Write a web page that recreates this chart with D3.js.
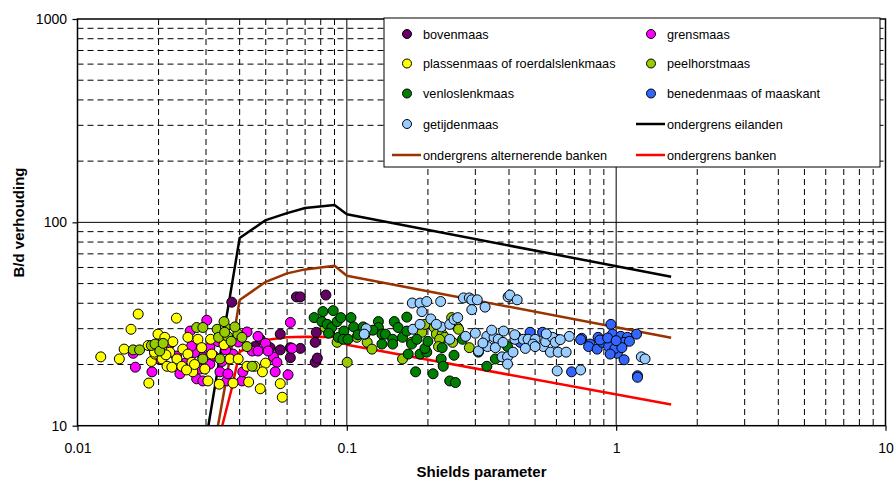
<!DOCTYPE html>
<html>
<head>
<meta charset="utf-8">
<script src="https://cdn.jsdelivr.net/npm/d3@7"></script>
<style>
  body { margin: 0; background: #fff; }
  svg { display: block; }
  text { font-family: "Liberation Sans", Arial, sans-serif; fill: #000; }
</style>
</head>
<body>
<svg id="chart" width="895" height="481"></svg>
<script>
// ---- Measured river reaches: [Shields parameter, B/d ratio] ----
const bovenmaas = [
  [0.0374,40.5],[0.065,43.0],[0.0672,43.0],[0.0836,43.9],[0.077,28.8],[0.0763,25.7],
  [0.0617,24.2],[0.0672,24.0],[0.0566,23.6],[0.0617,21.6],[0.0763,20.5],[0.0777,21.5],
  [0.0519,24.2],[0.0477,26.6],[0.0455,24.5],[0.0566,28.2]
];
const grensmaas = [
  [0.0164,19.4],[0.0161,22.7],[0.0189,18.4],[0.0217,24.5],
  [0.0302,33.0],[0.0262,29.2],[0.022,25.2],[0.031,24.2],[0.0333,25.9],[0.0292,21.8],
  [0.0344,20.7],[0.031,20.1],[0.0338,18.4],[0.0277,17.0],[0.0292,16.6],[0.0358,16.6],
  [0.0408,16.6],[0.0426,28.9],[0.0445,23.3],[0.0411,18.4],[0.0378,22.5],
  [0.0617,32.2],[0.0468,27.5],[0.0499,25.4],[0.0468,23.3],[0.0534,21.8],[0.055,20.5],
  [0.0626,24.0],[0.0542,18.4],[0.0605,17.8],[0.051,23.3],
  [0.0233,22.0],[0.0251,20.3],[0.0272,22.9],[0.0286,19.0],[0.0321,22.0],[0.0355,23.6],
  [0.024,18.0],[0.0197,21.4],[0.0265,24.6],[0.0395,25.8],[0.0362,18.0]
];
const plassenmaas = [
  [0.0168,35.4],[0.0158,29.8],[0.0122,21.8],[0.0143,21.3],[0.0149,23.8],[0.0184,16.2],
  [0.0188,20.7],[0.0199,28.2],[0.0211,27.2],[0.0183,24.8],[0.0194,22.5],[0.0206,21.3],
  [0.0215,19.6],
  [0.0233,33.8],[0.0226,25.9],[0.0257,27.2],[0.028,26.6],[0.0246,23.8],[0.0257,22.5],
  [0.0234,21.3],[0.022,23.0],[0.0224,19.4],[0.0244,19.6],[0.0266,20.5],[0.0268,18.4],
  [0.0289,24.2],[0.0315,22.5],[0.0297,19.0],[0.0305,16.6],[0.0336,16.0],[0.0368,21.3],
  [0.0395,21.3],[0.0378,16.2],[0.0432,16.4],[0.0426,19.6],
  [0.0499,20.3],[0.0486,18.4],[0.0566,16.1],[0.0477,15.2],[0.0576,13.8],[0.0455,19.6],
  [0.0205,24.0],[0.0213,22.3],[0.0272,20.0],[0.0254,18.8],[0.0312,26.6],[0.035,25.0],
  [0.0193,23.0]
];
const peelhorstmaas = [
  [0.0161,23.6],[0.017,23.6],[0.0188,24.8],[0.0194,25.2],[0.0202,23.3],[0.0208,25.4],
  [0.0277,30.4],[0.0292,30.4],[0.033,29.8],[0.0354,30.6],[0.0334,27.2],[0.0361,27.5],
  [0.0394,28.2],[0.0384,30.6],[0.0408,27.2],[0.0338,21.3],[0.0292,21.3],[0.0426,24.5],
  [0.0445,19.6],[0.0352,28.8],[0.0372,26.0],[0.035,32.5],
  [0.083,30.4],[0.092,25.7],
  [0.1003,20.5],[0.109,27.2],[0.119,25.7],[0.124,23.8],[0.161,21.3],[0.174,25.7],[0.19,28.8],
  [0.195,31.5],[0.211,30.4],[0.215,28.2],[0.226,28.2],[0.231,27.2],[0.221,26.6],
  [0.245,34.0],[0.258,30.4],[0.26,29.8],[0.285,24.2],[0.247,25.7],[0.219,24.5]
];
const venloslenkmaas = [
  [0.0756,34.0],[0.0815,36.4],[0.089,36.8],[0.0808,32.5],[0.0845,31.5],[0.0879,30.4],
  [0.092,32.5],[0.093,27.2],[0.0855,28.5],
  [0.095,34.0],[0.1036,34.0],[0.106,30.6],[0.0975,29.2],[0.115,30.6],[0.0968,26.6],
  [0.101,26.6],[0.131,32.5],[0.131,30.4],[0.135,28.2],[0.139,28.2],[0.15,32.5],
  [0.155,30.4],[0.148,26.6],[0.135,25.2],[0.148,25.2],[0.161,27.2],[0.167,34.2],
  [0.167,29.2],[0.174,25.2],[0.182,26.6],[0.169,22.5],[0.187,22.5],[0.18,18.4],
  [0.117,28.2],[0.11,28.0],[0.125,29.5],
  [0.269,26.6],[0.226,24.2],[0.224,21.3],[0.228,19.6],[0.25,22.2],[0.209,18.0],
  [0.241,16.6],[0.253,16.3],[0.308,23.0],[0.331,19.6],[0.356,21.3],[0.395,24.5],
  [0.198,23.0],[0.195,24.0],[0.2,26.0]
];
const benedenmaas = [
  [0.479,28.8],[0.533,28.8],[0.429,27.2],[0.44,25.7],[0.604,26.6],[0.745,26.9],
  [0.8,25.2],[0.683,18.4],[0.738,26.5],[0.79,24.5],
  [0.956,31.5],[0.857,27.2],[0.905,25.7],[0.85,23.8],[0.969,28.2],[0.969,25.7],
  [1.04,27.5],[1.1,27.2],[1.02,25.2],[1.07,25.7],[1.01,22.7],[1.07,21.1],[1.19,28.2],
  [0.888,25.7],[1.2,17.6],[1.2,17.3],[0.938,24.5],
  [0.87,26.4],[0.93,27.0],[0.99,24.0],[1.05,24.2],[1.12,26.0],[1.0,26.2],[0.95,22.5]
];
const getijdenmaas = [
  [0.118,30.0],[0.116,28.2],[0.176,29.8],[0.175,40.1],[0.187,40.1],[0.19,36.4],[0.187,31.5],
  [0.198,40.8],[0.223,40.8],[0.271,42.5],[0.285,42.5],[0.291,41.6],[0.305,41.6],
  [0.291,37.2],[0.326,38.3],[0.397,43.0],[0.224,30.6],[0.241,31.5],[0.25,33.3],
  [0.258,34.0],[0.241,26.6],[0.276,27.5],[0.331,27.5],[0.352,27.2],[0.365,26.6],
  [0.382,29.2],[0.333,24.5],[0.356,24.2],[0.377,21.8],[0.395,21.8],[0.395,20.1],
  [0.308,23.3],[0.38,25.7],
  [0.403,43.9],[0.429,41.6],[0.421,26.6],[0.452,26.6],[0.471,26.6],[0.5,26.6],
  [0.491,25.2],[0.537,24.5],[0.547,25.9],[0.58,27.2],[0.594,25.7],[0.57,23.0],
  [0.609,23.0],[0.652,23.0],[0.67,27.5],[0.414,23.0],[0.604,18.6],[0.738,18.8],[0.5,24.5],
  [1.24,21.8],[1.28,21.3],
  [0.205,33.5],[0.215,31.5],[0.3,28.5],[0.32,25.5],[0.345,29.5],[0.42,28.0],
  [0.46,24.0],[0.55,28.3],[0.62,26.5]
];

// ---- Threshold curves: [Shields parameter, B/d ratio] ----
const ondergrensEilanden = [
  [0.03,8.5],[0.04,83.7],[0.05,102.6],[0.06,111],[0.07,117.6],[0.09,121.7],[0.1,109.5],[1.6,54.0]
];
const ondergrensAlternerend = [
  [0.033,9.5],[0.0357,17],[0.04,41.5],[0.05,51],[0.06,56.1],[0.07,58.7],[0.09,61.2],[0.1,54.6],[1.6,27.1]
];
const ondergrensBanken = [
  [0.034,9.3],[0.0375,15.5],[0.04,23.1],[0.05,26.4],[0.06,27.2],[0.07,27.4],[0.09,27.3],[0.1,25.0],[1.6,12.7]
];

// ---- Axes ----
const xTicks = [0.01, 0.1, 1, 10];
const xTickLabels = ["0.01", "0.1", "1", "10"];
const yTicks = [10, 100, 1000];
const yTickLabels = ["10", "100", "1000"];
const xTitle = "Shields parameter";
const yTitle = "B/d verhouding";

// ---- Styling ----
const pointSeries = [
  { name: "bovenmaas", data: bovenmaas, color: "#660066" },
  { name: "grensmaas", data: grensmaas, color: "#ff00ff" },
  { name: "plassenmaas of roerdalslenkmaas", data: plassenmaas, color: "#ffff00" },
  { name: "peelhorstmaas", data: peelhorstmaas, color: "#99cc00" },
  { name: "venloslenkmaas", data: venloslenkmaas, color: "#008000" },
  { name: "benedenmaas of maaskant", data: benedenmaas, color: "#3366ff" },
  { name: "getijdenmaas", data: getijdenmaas, color: "#99ccff" }
];
const lineSeries = [
  { name: "ondergrens eilanden", data: ondergrensEilanden, color: "#000000" },
  { name: "ondergrens alternerende banken", data: ondergrensAlternerend, color: "#993300" },
  { name: "ondergrens banken", data: ondergrensBanken, color: "#ff0000" }
];

const svg = d3.select("#chart");
const plot = { left: 77.5, right: 885.5, top: 19, bottom: 425.7 };

const x = d3.scaleLog().domain([0.01, 10]).range([plot.left, plot.right]);
const y = d3.scaleLog().domain([10, 1000]).range([plot.bottom, plot.top]);

// clip for series inside the plot frame
svg.append("defs").append("clipPath").attr("id", "plotClip")
  .append("rect")
  .attr("x", plot.left).attr("y", plot.top)
  .attr("width", plot.right - plot.left).attr("height", plot.bottom - plot.top);

// ---- Grid ----
const grid = svg.append("g");
const mult = [2, 3, 4, 5, 6, 7, 8, 9];
const xMinor = [0.01, 0.1, 1].flatMap(d => mult.map(m => +(d * m).toPrecision(3)));
const yMinor = [10, 100].flatMap(d => mult.map(m => d * m));

grid.selectAll(".xg").data(xMinor).join("line")
  .attr("x1", d => x(d)).attr("x2", d => x(d))
  .attr("y1", plot.top).attr("y2", plot.bottom)
  .attr("stroke", "#000").attr("stroke-width", 1).attr("stroke-dasharray", "6,4");
grid.selectAll(".yg").data(yMinor).join("line")
  .attr("y1", d => y(d)).attr("y2", d => y(d))
  .attr("x1", plot.left).attr("x2", plot.right)
  .attr("stroke", "#000").attr("stroke-width", 1).attr("stroke-dasharray", "6,4");
// major grid
grid.selectAll(".xmaj").data([0.1, 1]).join("line")
  .attr("x1", d => x(d)).attr("x2", d => x(d))
  .attr("y1", plot.top).attr("y2", plot.bottom)
  .attr("stroke", "#000").attr("stroke-width", 1);
grid.selectAll(".ymaj").data([100]).join("line")
  .attr("y1", d => y(d)).attr("y2", d => y(d))
  .attr("x1", plot.left).attr("x2", plot.right)
  .attr("stroke", "#000").attr("stroke-width", 1);

// ---- Threshold lines ----
const line = d3.line().x(d => x(d[0])).y(d => y(d[1]));
svg.append("g").attr("clip-path", "url(#plotClip)")
  .selectAll("path").data(lineSeries).join("path")
  .attr("d", d => line(d.data))
  .attr("fill", "none")
  .attr("stroke", d => d.color)
  .attr("stroke-width", 2.5)
  .attr("stroke-linejoin", "round");

// ---- Measurements ----
const pts = svg.append("g").attr("clip-path", "url(#plotClip)");
pointSeries.forEach(s => {
  pts.append("g").selectAll("circle").data(s.data).join("circle")
    .attr("cx", d => x(d[0])).attr("cy", d => y(d[1]))
    .attr("r", 5)
    .attr("fill", s.color)
    .attr("stroke", "#000").attr("stroke-width", 1);
});

// ---- Frame & axes ----
svg.append("rect")
  .attr("x", plot.left).attr("y", plot.top)
  .attr("width", plot.right - plot.left).attr("height", plot.bottom - plot.top)
  .attr("fill", "none").attr("stroke", "#000").attr("stroke-width", 1.5);

const xAxis = svg.append("g")
  .attr("transform", `translate(0,${plot.bottom})`)
  .call(d3.axisBottom(x).tickValues(xTicks)
    .tickFormat((d, i) => xTickLabels[i]).tickSize(5).tickPadding(12));
const yAxis = svg.append("g")
  .attr("transform", `translate(${plot.left},0)`)
  .call(d3.axisLeft(y).tickValues(yTicks)
    .tickFormat((d, i) => yTickLabels[i]).tickSize(5).tickPadding(5.5));
[xAxis, yAxis].forEach(a => {
  a.select(".domain").remove();
  a.selectAll(".tick line").attr("stroke", "#000").attr("stroke-width", 1.2);
  a.selectAll(".tick text").attr("font-size", "14px")
    .attr("font-family", "'Liberation Sans', Arial, sans-serif").attr("fill", "#000");
});

svg.append("text")
  .attr("x", (plot.left + plot.right) / 2).attr("y", 477)
  .attr("text-anchor", "middle").attr("font-size", "15px").attr("font-weight", "bold")
  .text(xTitle);
svg.append("text")
  .attr("transform", "translate(23.5,222.5) rotate(-90)")
  .attr("text-anchor", "middle").attr("font-size", "15px").attr("font-weight", "bold")
  .text(yTitle);

// ---- Legend ----
const legend = svg.append("g");
legend.append("rect")
  .attr("x", 384).attr("y", 18).attr("width", 496).attr("height", 149)
  .attr("fill", "#fff").attr("stroke", "#000").attr("stroke-width", 1);

const legendEntries = [
  ...pointSeries.map(s => ({ ...s, kind: "point" })),
  ...lineSeries.map(s => ({ ...s, kind: "line" }))
];
const rowY = [34, 63.5, 93.5, 124, 155];
const colMarker = [407, 651];
const colText = [423, 667];
legendEntries.forEach((e, i) => {
  const row = Math.floor(i / 2), col = i % 2;
  const cy = rowY[row];
  const g = legend.append("g");
  if (e.kind === "point") {
    g.append("circle").attr("cx", colMarker[col]).attr("cy", cy).attr("r", 4.5)
      .attr("fill", e.color).attr("stroke", "#000").attr("stroke-width", 1);
  } else {
    g.append("line")
      .attr("x1", colMarker[col] - 15).attr("x2", colText[col] - 2)
      .attr("y1", cy).attr("y2", cy)
      .attr("stroke", e.color).attr("stroke-width", 2.5);
  }
  g.append("text").attr("x", colText[col]).attr("y", cy + 4.5)
    .attr("font-size", "12.7px").text(e.name);
});
</script>
</body>
</html>
